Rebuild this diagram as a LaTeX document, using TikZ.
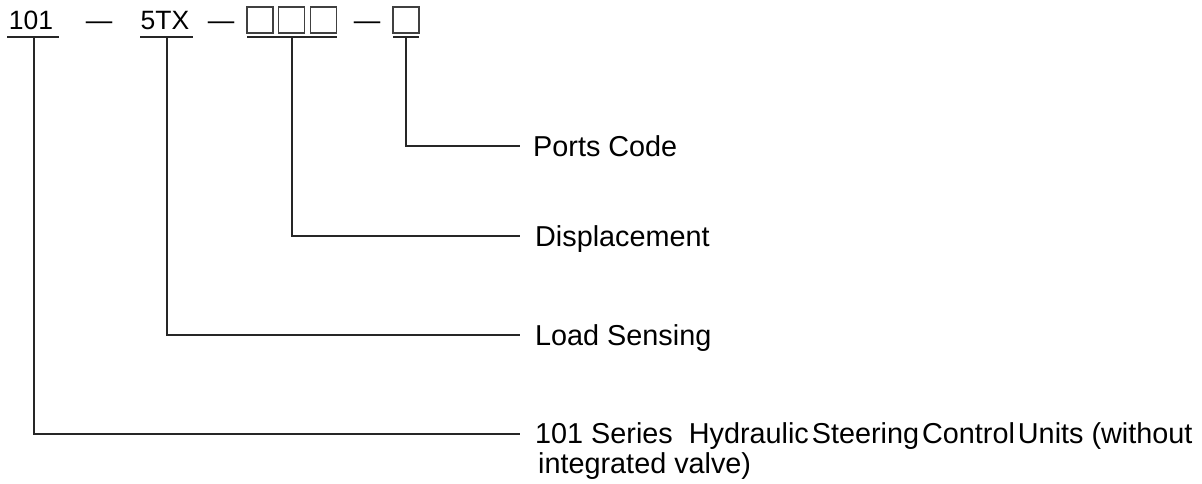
\documentclass[tikz,border=0pt]{standalone}
\usepackage{fontspec}
\setmainfont{Liberation Sans}
\begin{document}
\begin{tikzpicture}[x=1pt,y=-1pt,
  ln/.style={line width=1.3pt, draw=black!85},
  code/.style={font=\fontsize{26.5}{30}\selectfont, inner sep=0pt, anchor=base},
  lbl/.style={font=\fontsize{28.8}{30}\selectfont, inner sep=0pt, anchor=base west, align=left},
  sq/.style={draw=black!75, line width=1.2pt, minimum width=26pt, minimum height=26pt, inner sep=0pt}]
\useasboundingbox (0,0) rectangle (1202,483);

% code row
\node[code] (n101) at (31,29) {101};
\node[code] (d1) at (99,29) {—};
\node[code] (n5tx) at (165,29) {5TX};
\node[code] (d2) at (221,29) {—};
\node[sq] (b1) at (260,20) {};
\node[sq] (b2) at (291.5,20) {};
\node[sq] (b3) at (323.5,20) {};
\node[code] (d3) at (367,29) {—};
\node[sq] (b4) at (406,20) {};

% underlines
\coordinate (u1a) at (7,37);   \coordinate (u1b) at (59,37);
\coordinate (u2a) at (140,37); \coordinate (u2b) at (193,37);
\coordinate (u3a) at (247,37); \coordinate (u3b) at (337,37);
\coordinate (u4a) at (393,37); \coordinate (u4b) at (419,37);
\draw[ln] (u1a) -- (u1b);
\draw[ln] (u2a) -- (u2b);
\draw[ln] (u3a) -- (u3b);
\draw[ln] (u4a) -- (u4b);

% labels
\node[lbl] (lport) at (533,156) {Ports Code};
\node[lbl] (ldisp) at (535,246) {Displacement};
\node[lbl] (lload) at (535,345) {Load Sensing};
\node[lbl] (lser) at (535,473) {101 Series\ \ Hydraulic\hspace{3pt}Steering\hspace{3pt}Control\hspace{3pt}Units (without\\\hspace{3pt}integrated valve)};

% connectors
\coordinate (t1) at (34,37);  \coordinate (e1) at (520,434);
\coordinate (t2) at (167,37); \coordinate (e2) at (520,335);
\coordinate (t3) at (292,37); \coordinate (e3) at (520,236);
\coordinate (t4) at (406,37); \coordinate (e4) at (520,146);
\draw[ln] (t1) |- (e1);
\draw[ln] (t2) |- (e2);
\draw[ln] (t3) |- (e3);
\draw[ln] (t4) |- (e4);
\end{tikzpicture}
\end{document}
